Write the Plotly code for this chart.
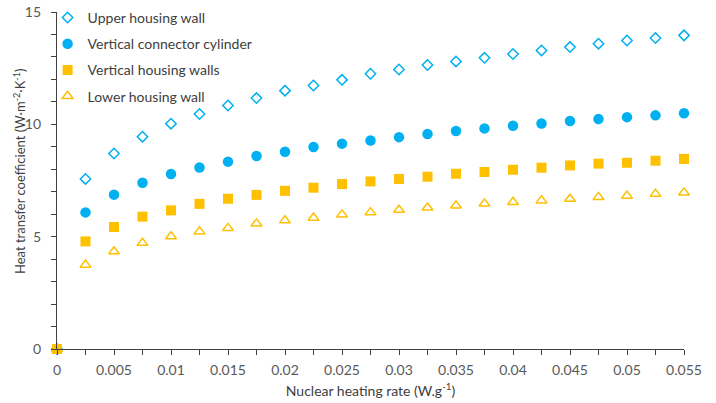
import plotly.graph_objects as go

# Nuclear heating rate (W/g)
heating_rate = [0, 0.0025, 0.005, 0.0075, 0.01, 0.0125, 0.015, 0.0175, 0.02, 0.0225, 0.025,
                0.0275, 0.03, 0.0325, 0.035, 0.0375, 0.04, 0.0425, 0.045, 0.0475, 0.05,
                0.0525, 0.055]

# Heat transfer coefficients (W m^-2 K^-1)
upper_housing_wall = [0, 7.57, 8.70, 9.45, 10.03, 10.46, 10.84, 11.17, 11.50, 11.73, 11.98,
                      12.25, 12.44, 12.64, 12.80, 12.96, 13.13, 13.29, 13.44, 13.59, 13.73,
                      13.84, 13.96]
vertical_connector_cylinder = [0, 6.08, 6.87, 7.40, 7.79, 8.08, 8.34, 8.59, 8.78, 8.99, 9.14,
                               9.28, 9.43, 9.57, 9.70, 9.82, 9.94, 10.04, 10.15, 10.24, 10.32,
                               10.40, 10.49]
vertical_housing_walls = [0, 4.79, 5.43, 5.89, 6.17, 6.46, 6.69, 6.86, 7.04, 7.18, 7.34,
                          7.46, 7.57, 7.67, 7.80, 7.88, 7.98, 8.07, 8.17, 8.25, 8.29,
                          8.38, 8.46]
lower_housing_wall = [0, 3.75, 4.34, 4.72, 5.01, 5.23, 5.38, 5.58, 5.72, 5.84, 5.98,
                      6.08, 6.19, 6.29, 6.38, 6.47, 6.54, 6.61, 6.68, 6.76, 6.82,
                      6.90, 6.96]

CYAN = "#00B0F0"
ORANGE = "#FFC000"
FONT = "Lato, 'Open Sans', sans-serif"

# squares are drawn last so the shared origin point shows as a square
series = [
    ("Upper housing wall", upper_housing_wall,
     dict(symbol="diamond-open", size=8, color=CYAN, line=dict(width=1.5, color=CYAN)), 1),
    ("Vertical connector cylinder", vertical_connector_cylinder,
     dict(symbol="circle", size=10.5, color=CYAN), 2),
    ("Lower housing wall", lower_housing_wall,
     dict(symbol="triangle-up-open", size=9.5, color=ORANGE, line=dict(width=1.5, color=ORANGE)), 4),
    ("Vertical housing walls", vertical_housing_walls,
     dict(symbol="square", size=10, color=ORANGE), 3),
]

fig = go.Figure()
for name, values, marker, rank in series:
    fig.add_trace(go.Scatter(
        x=heating_rate, y=values, mode="markers", name=name, marker=marker,
        legendrank=rank, legendgroup=name, cliponaxis=False,
    ))

axis_common = dict(
    showgrid=False, zeroline=False, showline=True, linecolor="#404040", linewidth=1.2,
    ticks="outside", ticklen=5, tickcolor="#404040", tickwidth=1.2,
    tickfont=dict(family=FONT, size=14, color="#595959"),
)

fig.update_xaxes(
    range=[0, 0.055], dtick=0.005, tick0=0, ticklabelstandoff=3,
    minor=dict(dtick=0.0025, ticks="outside", ticklen=5, tickcolor="#404040", tickwidth=1.2),
    title=dict(text="Nuclear heating rate (W.g<sup>-1</sup>)", standoff=9,
               font=dict(family=FONT, size=14, color="#404040")),
    **axis_common,
)
fig.update_yaxes(
    range=[0, 15], dtick=5, tick0=0, ticklabelstandoff=7,
    minor=dict(dtick=1, ticks="outside", ticklen=5, tickcolor="#404040", tickwidth=1.2),
    **axis_common,
)

# vertical axis title, placed close to the tick labels
fig.add_annotation(
    text="Heat transfer coefficient (W·m<sup>-2</sup>·K<sup>-1</sup>)",
    xref="paper", yref="paper", x=-38 / 627, y=0.528,
    xanchor="center", yanchor="middle", textangle=-90, showarrow=False,
    font=dict(family=FONT, size=13, color="#404040"),
)

fig.update_layout(
    width=716, height=403,
    margin=dict(l=57, r=32, t=12, b=54, autoexpand=False),
    paper_bgcolor="white", plot_bgcolor="white",
    font=dict(family=FONT, color="#404040"),
    legend=dict(
        x=-0.015, y=1.03, xanchor="left", yanchor="top",
        font=dict(family=FONT, size=14, color="#404040"),
        bgcolor="rgba(0,0,0,0)", tracegroupgap=5, itemwidth=30,
    ),
    showlegend=True,
)

fig.write_html("out.html")
